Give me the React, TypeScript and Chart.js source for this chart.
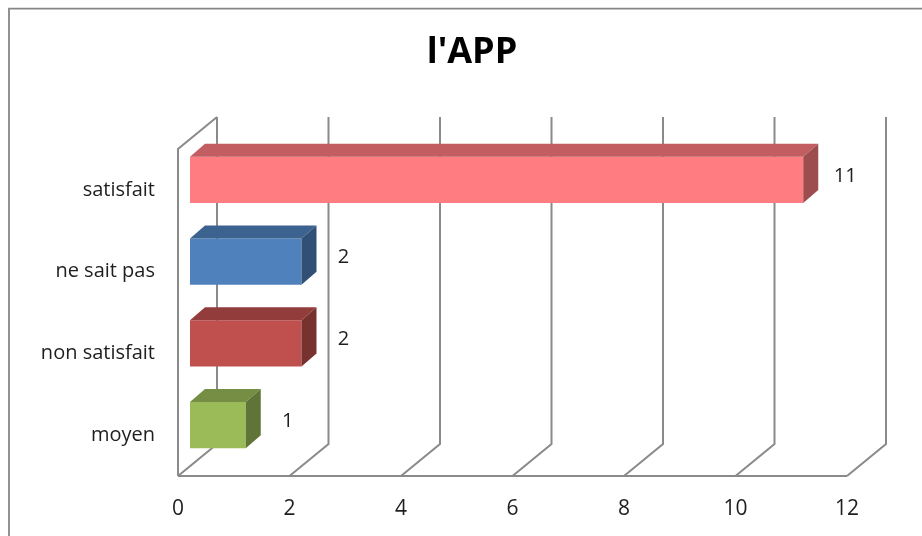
import React, { useEffect, useRef } from "react";
import { Chart, registerables } from "chart.js";

Chart.register(...registerables);

const categories = ["satisfait", "ne sait pas", "non satisfait", "moyen"];
const values = [11, 2, 2, 1];
const frontColors = ["#FF7C80", "#4F81BD", "#C0504D", "#9BBB59"];
const xTicks = [0, 2, 4, 6, 8, 10, 12];
const titleText = "l'APP";

const FONT = "'Open Sans', 'DejaVu Sans', sans-serif";
const GRID_COLOR = "#8a8a8a";
const WALL_DX = 39;
const WALL_DY = -32;
const BAR_SHIFT_X = 12;
const BAR_SHIFT_Y = -10;
const BAR_DX = 15;
const BAR_DY = -13;

function shade(hex: string, f: number): string {
  const n = parseInt(hex.slice(1), 16);
  const r = Math.round(((n >> 16) & 255) * f);
  const g = Math.round(((n >> 8) & 255) * f);
  const b = Math.round((n & 255) * f);
  return `rgb(${r},${g},${b})`;
}

const threeD = {
  id: "threeD",
  beforeDraw(chart: any) {
    const ctx = chart.ctx;
    ctx.save();
    ctx.fillStyle = "#ffffff";
    ctx.fillRect(0, 0, chart.width, chart.height);
    ctx.strokeStyle = "#868686";
    ctx.lineWidth = 1.8;
    ctx.beginPath();
    ctx.moveTo(9, chart.height + 5);
    ctx.lineTo(9, 8.7);
    ctx.lineTo(chart.width + 5, 8.7);
    ctx.stroke();
    ctx.restore();
  },
  beforeDatasetsDraw(chart: any) {
    const ctx = chart.ctx;
    const xs = chart.scales.x;
    const { left, right, top, bottom } = chart.chartArea;
    ctx.save();
    ctx.strokeStyle = GRID_COLOR;
    ctx.lineWidth = 2;
    ctx.lineJoin = "miter";
    ctx.beginPath();
    ctx.moveTo(left, bottom);
    ctx.lineTo(left, top);
    ctx.lineTo(left + WALL_DX, top + WALL_DY);
    ctx.stroke();
    ctx.beginPath();
    ctx.moveTo(left, bottom);
    ctx.lineTo(right, bottom);
    ctx.stroke();
    xTicks.forEach((v) => {
      const xf = xs.getPixelForValue(v);
      ctx.beginPath();
      ctx.moveTo(xf, bottom);
      ctx.lineTo(xf + WALL_DX, bottom + WALL_DY);
      ctx.lineTo(xf + WALL_DX, top + WALL_DY);
      ctx.stroke();
    });
    ctx.restore();
    ctx.save();
    ctx.translate(BAR_SHIFT_X, BAR_SHIFT_Y);
  },
  afterDatasetsDraw(chart: any) {
    const ctx = chart.ctx;
    const meta = chart.getDatasetMeta(0);
    meta.data.forEach((bar: any, i: number) => {
      const p = bar.getProps(["x", "y", "base", "height"], true);
      const x0 = p.base;
      const x1 = p.x;
      const yt = p.y - p.height / 2;
      const yb = p.y + p.height / 2;
      const c = frontColors[i];
      ctx.fillStyle = shade(c, 0.76);
      ctx.beginPath();
      ctx.moveTo(x0, yt);
      ctx.lineTo(x0 + BAR_DX, yt + BAR_DY);
      ctx.lineTo(x1 + BAR_DX, yt + BAR_DY);
      ctx.lineTo(x1, yt);
      ctx.closePath();
      ctx.fill();
      ctx.fillStyle = shade(c, 0.62);
      ctx.beginPath();
      ctx.moveTo(x1, yt);
      ctx.lineTo(x1 + BAR_DX, yt + BAR_DY);
      ctx.lineTo(x1 + BAR_DX, yb + BAR_DY);
      ctx.lineTo(x1, yb);
      ctx.closePath();
      ctx.fill();
    });
    ctx.restore();
    ctx.save();
    ctx.fillStyle = "#1e1e1e";
    ctx.font = `20px ${FONT}`;
    ctx.textAlign = "center";
    ctx.textBaseline = "middle";
    meta.data.forEach((bar: any, i: number) => {
      const p = bar.getProps(["x", "y"], true);
      ctx.fillText(String(values[i]), p.x + 54, p.y - 14);
    });
    ctx.restore();
  },
};

export default function App() {
  const ref = useRef<HTMLCanvasElement>(null);
  useEffect(() => {
    if (!ref.current) return;
    const chart = new Chart(ref.current, {
      type: "bar",
      data: {
        labels: categories,
        datasets: [
          {
            data: values,
            backgroundColor: frontColors,
            borderWidth: 0,
            barPercentage: 1,
            categoryPercentage: 0.563,
            clip: false as any,
            yAxisID: "y",
          },
        ],
      },
      options: {
        indexAxis: "y",
        animation: false,
        responsive: false,
        devicePixelRatio: 1,
        layout: { padding: { left: 30, right: 8, top: 0, bottom: 0 } },
        plugins: {
          legend: { display: false },
          tooltip: { enabled: false },
          title: {
            display: true,
            text: titleText,
            color: "#000000",
            font: { family: FONT, size: 36, weight: "bold", lineHeight: 1.2 },
            padding: { top: 31.4, bottom: 74.4 },
          },
        },
        scales: {
          x: {
            min: 0,
            max: 12,
            grid: { display: false },
            border: { display: false },
            ticks: {
              stepSize: 2,
              padding: 12,
              color: "#1e1e1e",
              font: { family: FONT, size: 21 },
              maxRotation: 0,
            },
            afterFit: (s: any) => {
              s.height = 60;
            },
          },
          y: {
            position: "left",
            grid: { display: false },
            border: { display: false },
            ticks: {
              padding: 15,
              color: "#1e1e1e",
              font: { family: FONT, size: 20 },
            },
            afterFit: (s: any) => {
              s.width = 148;
            },
          },
          y2: {
            type: "category",
            labels: categories,
            position: "right",
            grid: { display: false },
            border: { display: false },
            ticks: { display: false },
            afterFit: (s: any) => {
              s.width = 67;
            },
          },
        },
      },
      plugins: [threeD],
    });
    return () => chart.destroy();
  }, []);
  return (
    <div style={{ position: "absolute", left: 0, top: 0, width: 922, height: 536 }}>
      <canvas ref={ref} width={922} height={536} />
    </div>
  );
}
